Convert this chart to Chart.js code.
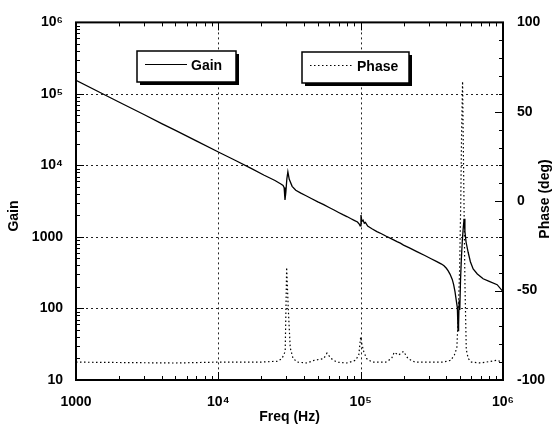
<!DOCTYPE html>
<html>
<head>
<meta charset="utf-8">
<script src="https://cdn.jsdelivr.net/npm/chart.js@4.4.0/dist/chart.umd.min.js"></script>
<style>
    html, body { margin: 0; padding: 0; background: #fff; }
    #wrap { width: 555px; height: 427px; position: relative; }
</style>
</head>
<body>
<div id="wrap"><canvas id="bode-chart"></canvas></div>
<script>
// 增益曲线 (Hz, 倍数)
const gainFreq = [
    1000, 1500, 2000, 3000, 4000, 5000, 7000, 10000, 13000, 17000,
    21000, 25000, 27500, 28500, 29000, 29400, 29800, 30300, 30800, 31500,
    33000, 35000, 38000, 41000, 45000, 50000, 55000, 60000, 65000, 70000,
    75000, 80000, 85000, 90000, 95000, 98000, 99000, 100500, 102000, 104000,
    106000, 108000, 112000, 120000, 130000, 140000, 150000, 165000, 180000, 190000,
    200000, 220000, 250000, 280000, 310000, 340000, 370000, 385000, 400000, 412000,
    425000, 440000, 450000, 460000, 470000, 478000, 483000, 486000, 489000, 492000,
    497000, 503000, 510000, 518000, 525000, 533000, 540000, 550000, 569000, 590000,
    617000, 660000, 725000, 800000, 910000, 1000000
];
const gainValues = [
    155000, 103000, 77000, 51500, 38500, 31000, 22000, 15400, 11900, 9100,
    7300, 6150, 5500, 5250, 4900, 3300, 4200, 6500, 8150, 6400,
    5100, 4500, 4100, 3800, 3450, 3100, 2830, 2580, 2380, 2200,
    2050, 1930, 1810, 1710, 1620, 1500, 1430, 2030, 1650, 1720,
    1560, 1600, 1420, 1300, 1190, 1110, 1030, 940, 860, 820,
    770, 705, 620, 555, 500, 455, 418, 395, 365, 335,
    300, 255, 215, 172, 128, 102, 49, 90, 60, 130,
    95, 250, 500, 900, 1300, 1800, 1200, 850, 611, 450,
    357, 304, 260, 240, 215, 172
];

// 相位曲线 (Hz, 度)
const phaseFreq = [
    1000, 5000, 10000, 20000, 26000, 28000, 29500, 30200, 31000, 32000,
    33500, 36000, 42000, 47000, 55000, 58000, 62000, 68000, 80000, 92000,
    97000, 100000, 102000, 105000, 110000, 120000, 150000, 165000, 172000, 185000,
    200000, 215000, 240000, 300000, 380000, 430000, 455000, 474000, 483000, 495000,
    505000, 512000, 520000, 530000, 540000, 552000, 570000, 600000, 700000, 900000,
    1000000
];
const phaseValues = [
    -90, -90.5, -90, -90, -89.5, -88, -84, -37, -60, -82,
    -88, -90, -90.5, -89, -88, -85, -88, -90, -90.5, -89,
    -86, -76, -80, -84, -88, -90, -90, -88, -84.5, -86,
    -84, -88, -90, -90, -90, -89, -86, -82, -67, -40,
    0, 40, 67, 10, -45, -83, -88, -90, -90.5, -89,
    -90
];

// 坐标轴刻度
const freqTicks = [1000, 1e4, 1e5, 1e6];
const freqTickLabels = ['1000', '10⁴', '10⁵', '10⁶'];
const gainTicks = [10, 100, 1000, 1e4, 1e5, 1e6];
const gainTickLabels = ['10', '100', '1000', '10⁴', '10⁵', '10⁶'];
const phaseTicks = [-100, -50, 0, 50, 100];
const phaseTickLabels = ['-100', '-50', '0', '50', '100'];

const seriesNames = ['Gain', 'Phase'];
const axisTitles = { x: 'Freq (Hz)', y: 'Gain', y1: 'Phase (deg)' };

const FONT_FAMILY = '"Liberation Sans", Arial, Helvetica, sans-serif';
const FONT = 'bold 14px ' + FONT_FAMILY;

function labelFor(ticks, labels) {
    return function(value) {
        const i = ticks.findIndex(t => Math.abs(t - value) < 1e-6 * Math.max(1, Math.abs(t)));
        return i >= 0 ? labels[i] : '';
    };
}

// 网格、边框、刻度、图例与轴标题
const bodeDecor = {
    id: 'bodeDecor',
    beforeDatasetsDraw(chart) {
        const { ctx, chartArea: a, scales } = chart;
        ctx.save();
        ctx.strokeStyle = '#222';
        ctx.lineWidth = 1;
        ctx.setLineDash([2, 3]);
        ctx.beginPath();
        gainTicks.slice(1, -1).forEach(v => {
            const y = Math.round(scales.y.getPixelForValue(v)) + 0.5;
            ctx.moveTo(a.left, y);
            ctx.lineTo(a.right, y);
        });
        freqTicks.slice(1, -1).forEach(v => {
            const x = Math.round(scales.x.getPixelForValue(v)) + 0.5;
            ctx.moveTo(x, a.top);
            ctx.lineTo(x, a.bottom);
        });
        ctx.stroke();
        ctx.restore();
    },
    afterDatasetsDraw(chart) {
        const { ctx, chartArea: a, scales } = chart;
        ctx.save();
        ctx.strokeStyle = '#000';
        ctx.setLineDash([]);

        // 刻度线（朝内）
        ctx.lineWidth = 1;
        ctx.beginPath();
        for (let d = 1000; d < 1e6; d *= 10) {
            for (let m = 1; m < 10; m++) {
                const x = Math.round(scales.x.getPixelForValue(d * m)) + 0.5;
                const len = m === 1 ? 8 : 4;
                ctx.moveTo(x, a.bottom); ctx.lineTo(x, a.bottom - len);
                ctx.moveTo(x, a.top); ctx.lineTo(x, a.top + len);
            }
        }
        for (let d = 10; d < 1e6; d *= 10) {
            for (let m = 1; m < 10; m++) {
                const y = Math.round(scales.y.getPixelForValue(d * m)) + 0.5;
                const len = m === 1 ? 8 : 4;
                ctx.moveTo(a.left, y); ctx.lineTo(a.left + len, y);
            }
        }
        for (let p = -100; p <= 100; p += 10) {
            const y = Math.round(scales.y1.getPixelForValue(p)) + 0.5;
            const len = p % 50 === 0 ? 8 : 4;
            ctx.moveTo(a.right, y); ctx.lineTo(a.right - len, y);
        }
        ctx.stroke();

        // 边框
        ctx.lineWidth = 2;
        ctx.strokeRect(a.left, a.top, a.right - a.left, a.bottom - a.top);

        // 图例（带阴影的方框）
        const boxes = [
            { x: 137, y: 51, w: 99, h: 31, x0: 145, x1: 187, dash: [] },
            { x: 302, y: 52, w: 107, h: 31, x0: 310, x1: 353, dash: [1.5, 2.5] }
        ];
        boxes.forEach((b, i) => {
            ctx.fillStyle = '#000';
            ctx.fillRect(b.x + 3, b.y + 3, b.w, b.h);
            ctx.fillStyle = '#fff';
            ctx.fillRect(b.x, b.y, b.w, b.h);
            ctx.lineWidth = 1.5;
            ctx.strokeRect(b.x, b.y, b.w, b.h);
            ctx.setLineDash(b.dash);
            ctx.lineWidth = 1.2;
            ctx.beginPath();
            ctx.moveTo(b.x0, b.y + 13.5);
            ctx.lineTo(b.x1, b.y + 13.5);
            ctx.stroke();
            ctx.setLineDash([]);
            ctx.fillStyle = '#000';
            ctx.font = FONT;
            ctx.textAlign = 'left';
            ctx.textBaseline = 'middle';
            ctx.fillText(seriesNames[i], b.x1 + 4, b.y + 15);
        });

        // 轴标题
        ctx.font = FONT;
        ctx.fillStyle = '#000';
        ctx.textAlign = 'center';
        ctx.textBaseline = 'middle';
        ctx.fillText(axisTitles.x, (a.left + a.right) / 2, 417);
        ctx.save();
        ctx.translate(14, 216);
        ctx.rotate(-Math.PI / 2);
        ctx.fillText(axisTitles.y, 0, 0);
        ctx.restore();
        ctx.save();
        ctx.translate(545, 199);
        ctx.rotate(-Math.PI / 2);
        ctx.fillText(axisTitles.y1, 0, 0);
        ctx.restore();

        ctx.restore();
    }
};

const tickFont = { family: FONT_FAMILY, size: 14, weight: 'bold' };

const bodeChart = new Chart(document.getElementById('bode-chart'), {
    type: 'line',
    data: {
        datasets: [{
            label: seriesNames[0],
            data: gainFreq.map((f, i) => ({ x: f, y: gainValues[i] })),
            yAxisID: 'y',
            borderColor: '#000',
            borderWidth: 1.3,
            pointRadius: 0,
            tension: 0
        }, {
            label: seriesNames[1],
            data: phaseFreq.map((f, i) => ({ x: f, y: phaseValues[i] })),
            yAxisID: 'y1',
            borderColor: '#000',
            borderWidth: 1.2,
            borderDash: [1.5, 2.5],
            pointRadius: 0,
            tension: 0
        }]
    },
    options: {
        responsive: true,
        maintainAspectRatio: false,
        animation: false,
        layout: { padding: { top: 16, left: 0, right: 0, bottom: 0 } },
        plugins: {
            legend: { display: false },
            tooltip: { enabled: false }
        },
        scales: {
            x: {
                type: 'logarithmic',
                min: 1000,
                max: 1e6,
                afterBuildTicks: s => { s.ticks = freqTicks.map(v => ({ value: v })); },
                afterFit: s => { s.height = 47; },
                grid: { display: false, drawTicks: false },
                border: { display: false },
                ticks: {
                    autoSkip: false,
                    maxRotation: 0,
                    padding: 14,
                    color: '#000',
                    font: tickFont,
                    callback: labelFor(freqTicks, freqTickLabels)
                }
            },
            y: {
                type: 'logarithmic',
                position: 'left',
                min: 10,
                max: 1e6,
                afterBuildTicks: s => { s.ticks = gainTicks.map(v => ({ value: v })); },
                afterFit: s => { s.width = 76; },
                grid: { display: false, drawTicks: false },
                border: { display: false },
                ticks: {
                    autoSkip: false,
                    padding: 13,
                    color: '#000',
                    font: tickFont,
                    callback: labelFor(gainTicks, gainTickLabels)
                }
            },
            y1: {
                type: 'linear',
                position: 'right',
                min: -100,
                max: 100,
                afterBuildTicks: s => { s.ticks = phaseTicks.map(v => ({ value: v })); },
                afterFit: s => { s.width = 52; },
                grid: { display: false, drawTicks: false },
                border: { display: false },
                ticks: {
                    autoSkip: false,
                    padding: 14,
                    color: '#000',
                    font: tickFont,
                    callback: labelFor(phaseTicks, phaseTickLabels)
                }
            }
        }
    },
    plugins: [bodeDecor]
});
</script>
</body>
</html>
